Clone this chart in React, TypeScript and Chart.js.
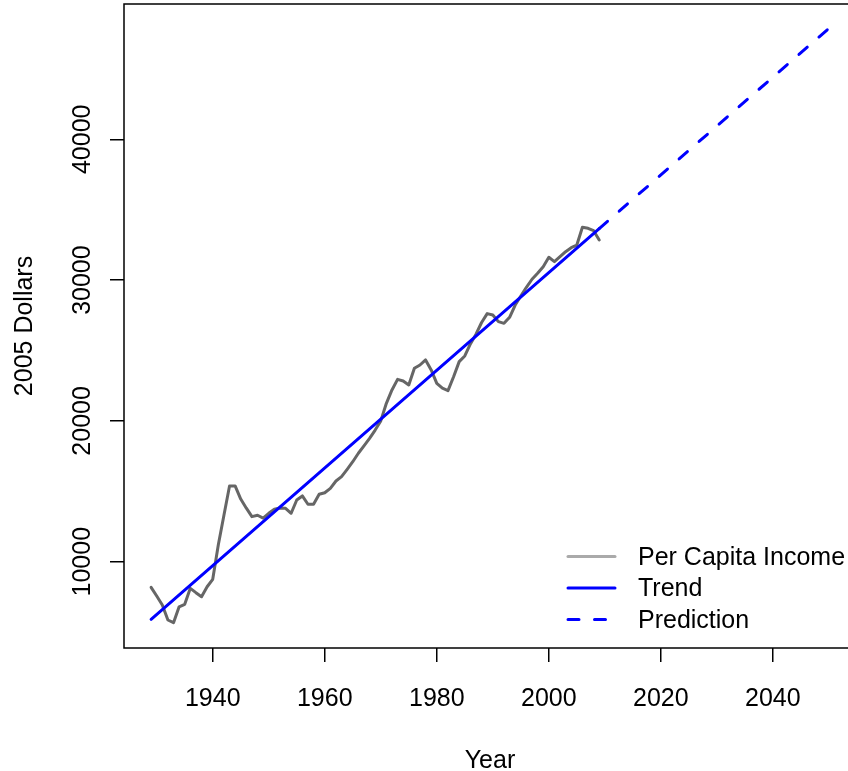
import React, { useEffect, useRef } from "react";
import { Chart, registerables } from "chart.js";

Chart.register(...registerables);

const FONT_FAMILY = "'Liberation Sans', Arial, Helvetica, sans-serif";
const FONT_SIZE = 25;

// Real per capita income, 2005 dollars
const incomeYears = [
  1929, 1930, 1931, 1932, 1933, 1934, 1935, 1936, 1937, 1938,
  1939, 1940, 1941, 1942, 1943, 1944, 1945, 1946, 1947, 1948,
  1949, 1950, 1951, 1952, 1953, 1954, 1955, 1956, 1957, 1958,
  1959, 1960, 1961, 1962, 1963, 1964, 1965, 1966, 1967, 1968,
  1969, 1970, 1971, 1972, 1973, 1974, 1975, 1976, 1977, 1978,
  1979, 1980, 1981, 1982, 1983, 1984, 1985, 1986, 1987, 1988,
  1989, 1990, 1991, 1992, 1993, 1994, 1995, 1996, 1997, 1998,
  1999, 2000, 2001, 2002, 2003, 2004, 2005, 2006, 2007, 2008,
  2009,
];
const incomeValues = [
  8180, 7560, 6920, 5860, 5670, 6800, 6970, 8110, 7800, 7510,
  8220, 8750, 11200, 13300, 15380, 15380, 14450, 13800, 13200, 13300,
  13100, 13440, 13720, 13810, 13790, 13440, 14380, 14670, 14080, 14080,
  14790, 14900, 15210, 15730, 16040, 16560, 17100, 17700, 18220, 18760,
  19350, 20000, 21250, 22200, 22950, 22830, 22550, 23740, 23970, 24330,
  23620, 22670, 22320, 22150, 23140, 24210, 24610, 25470, 26160, 26990,
  27620, 27520, 27050, 26930, 27360, 28230, 28870, 29490, 30060, 30480,
  30950, 31620, 31310, 31660, 32020, 32300, 32490, 33750, 33680, 33510,
  32850,
];

// Linear trend fitted to the series, and its extension
const trendYears = [1929, 2009];
const trendValues = [5910, 33660];
const predictionYears = [2009, 2050];
const predictionValues = [33660, 47880];

const xTickValues = [1940, 1960, 1980, 2000, 2020, 2040];
const yTickValues = [10000, 20000, 30000, 40000];

const toPoints = (xs: number[], ys: number[]) =>
  xs.map((x, i) => ({ x, y: ys[i] }));

const font = { family: FONT_FAMILY, size: FONT_SIZE };

// Frame around the plotting region
const boxPlugin = {
  id: "plotBox",
  afterDatasetsDraw(chart: any) {
    const { ctx, chartArea: a } = chart;
    ctx.save();
    ctx.strokeStyle = "#000";
    ctx.lineWidth = 1.5;
    ctx.strokeRect(a.left, a.top, a.right - a.left, a.bottom - a.top);
    ctx.restore();
  },
};

// Borderless legend in the bottom-right corner of the plot
const legendPlugin = {
  id: "insetLegend",
  afterDatasetsDraw(chart: any) {
    const { ctx, chartArea: a } = chart;
    ctx.save();
    ctx.font = `${FONT_SIZE}px ${FONT_FAMILY}`;
    ctx.textBaseline = "middle";
    ctx.textAlign = "left";
    chart.data.datasets.forEach((ds: any, i: number) => {
      const y = a.bottom - 90 + i * 31.5;
      ctx.beginPath();
      ctx.setLineDash(ds.borderDash || []);
      ctx.lineCap = "round";
      ctx.strokeStyle = ds.legendColor || ds.borderColor;
      ctx.lineWidth = 3;
      ctx.moveTo(a.right - 288, y - 1.5);
      ctx.lineTo(a.right - 241, y - 1.5);
      ctx.stroke();
      ctx.setLineDash([]);
      ctx.fillStyle = "#000";
      ctx.fillText(ds.label, a.right - 218, y);
    });
    ctx.restore();
  },
};

export default function App() {
  const canvasRef = useRef<HTMLCanvasElement | null>(null);

  useEffect(() => {
    const canvas = canvasRef.current;
    if (!canvas) return;

    const chart = new Chart(canvas, {
      type: "line",
      data: {
        datasets: [
          {
            label: "Per Capita Income",
            data: toPoints(incomeYears, incomeValues),
            borderColor: "#666666",
            legendColor: "#AAAAAA",
            borderWidth: 3,
            borderCapStyle: "round",
            borderJoinStyle: "round",
            order: 2,
          } as any,
          {
            label: "Trend",
            data: toPoints(trendYears, trendValues),
            borderColor: "#0000FF",
            borderWidth: 3,
            borderCapStyle: "round",
            order: 1,
          },
          {
            label: "Prediction",
            data: toPoints(predictionYears, predictionValues),
            borderColor: "#0000FF",
            borderWidth: 3,
            borderCapStyle: "round",
            borderDash: [11, 15.5],
            order: 1,
          },
        ],
      },
      options: {
        responsive: false,
        animation: false,
        devicePixelRatio: 1,
        layout: { padding: { left: 0, top: 4, right: 4, bottom: 0 } },
        elements: {
          point: { radius: 0, hoverRadius: 0 },
          line: { tension: 0, fill: false },
        },
        plugins: {
          legend: { display: false },
          tooltip: { enabled: false },
        },
        scales: {
          x: {
            type: "linear",
            min: 1924.16,
            max: 2054.84,
            afterBuildTicks: (s: any) => {
              s.ticks = xTickValues.map((v) => ({ value: v }));
            },
            afterFit: (s: any) => {
              s.height = 123;
              s.paddingLeft = 0;
              s.paddingRight = 0;
            },
            border: { display: false },
            grid: {
              drawOnChartArea: false,
              drawTicks: true,
              tickLength: 14,
              color: "#000",
              lineWidth: 1.5,
            },
            ticks: {
              font,
              color: "#000",
              padding: 22,
              maxRotation: 0,
              autoSkip: false,
              callback: (v: any) => String(v),
            },
            title: {
              display: true,
              text: "Year",
              font,
              color: "#000",
              padding: { top: 0, bottom: -5 },
            },
          },
          y: {
            type: "linear",
            min: 3871,
            max: 49609,
            afterBuildTicks: (s: any) => {
              s.ticks = yTickValues.map((v) => ({ value: v }));
            },
            afterFit: (s: any) => {
              s.width = 124;
              s.paddingTop = 0;
              s.paddingBottom = 0;
            },
            border: { display: false },
            grid: {
              drawOnChartArea: false,
              drawTicks: true,
              tickLength: 14,
              color: "#000",
              lineWidth: 1.5,
            },
            ticks: {
              font,
              color: "#000",
              minRotation: 90,
              maxRotation: 90,
              crossAlign: "center",
              padding: -8,
              autoSkip: false,
              callback: (v: any) => String(v),
            },
            title: {
              display: true,
              text: "2005 Dollars",
              font,
              color: "#000",
              padding: { top: 10, bottom: 0 },
            },
          },
        },
      } as any,
      plugins: [boxPlugin, legendPlugin],
    });

    return () => chart.destroy();
  }, []);

  return (
    <div
      style={{
        position: "fixed",
        left: 0,
        top: 0,
        width: 848,
        height: 771,
        overflow: "hidden",
        background: "#fff",
      }}
    >
      <canvas
        ref={canvasRef}
        width={860}
        height={771}
        style={{ display: "block", width: 860, height: 771 }}
      />
    </div>
  );
}
